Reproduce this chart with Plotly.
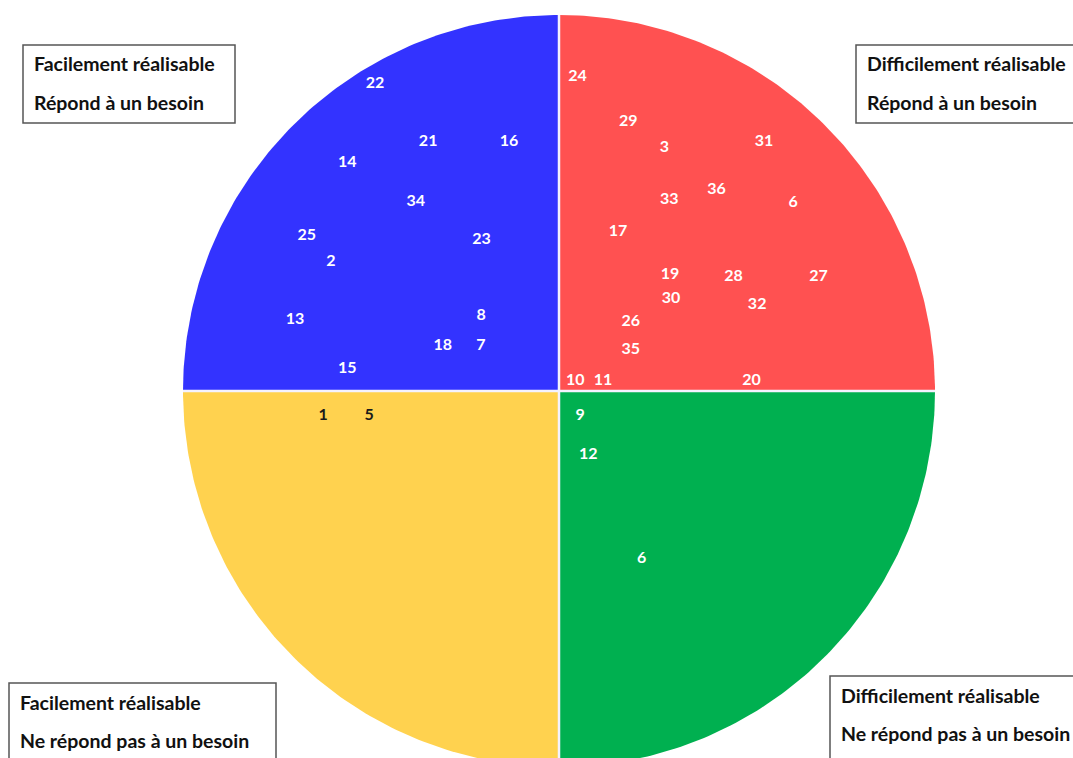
import numpy as np
import plotly.graph_objects as go

# ---- data ----
labels = ["22", "21", "16", "14", "34", "25", "23", "2", "13", "8", "18", "7", "15",
          "24", "29", "3", "31", "36", "33", "6", "17", "19", "28", "27", "30", "32",
          "26", "35", "10", "11", "20",
          "9", "12", "6",
          "1", "5"]
# x: difficulty of realisation (negative = easy), y: need (positive = meets a need)
difficulte = [-48.9, -34.8, -13.3, -56.3, -38.1, -67.1, -20.6, -60.7, -70.2, -20.7, -30.9, -20.8, -56.3,
              4.9, 18.4, 28.0, 54.5, 41.9, 29.3, 62.3, 15.7, 29.5, 46.4, 69.0, 29.8, 52.7,
              19.1, 19.1, 4.3, 11.7, 51.2,
              5.6, 7.8, 22.0,
              -62.7, -50.5]
besoin = [82.2, 66.8, 66.8, 61.4, 50.8, 41.9, 40.8, 35.1, 19.6, 20.7, 12.7, 12.7, 6.5,
          84.3, 72.1, 65.4, 66.8, 54.2, 51.4, 50.6, 43.0, 31.5, 31.1, 31.1, 25.1, 23.5,
          19.1, 11.5, 3.4, 3.4, 3.4,
          -5.9, -16.4, -43.9,
          -5.9, -5.9]

box_line1 = ["Facilement réalisable", "Difficilement réalisable",
             "Facilement réalisable", "Difficilement réalisable"]
box_line2 = ["Répond à un besoin", "Répond à un besoin",
             "Ne répond pas à un besoin", "Ne répond pas à un besoin"]

# ---- layout constants ----
W, H = 1073, 758
CX, CY = 559, 391          # pixel position of centre
PX_PER_UNIT = 3.76
R = 100                    # circle radius in data units
TEXT_DROP_PX = 2.5         # baseline compensation for number labels

xr = [-CX / PX_PER_UNIT, (W - CX) / PX_PER_UNIT]
yr = [(CY - H) / PX_PER_UNIT, CY / PX_PER_UNIT]
yr_text = [v + TEXT_DROP_PX / PX_PER_UNIT for v in yr]

BLUE, RED, GREEN, YELLOW = "#3333FF", "#FF5151", "#00B050", "#FFD24F"

fig = go.Figure()

def wedge(a0, a1, color):
    t = np.radians(np.linspace(a0, a1, 120))
    xs = np.concatenate([[0], R * np.cos(t), [0]])
    ys = np.concatenate([[0], R * np.sin(t), [0]])
    fig.add_trace(go.Scatter(x=xs, y=ys, fill="toself", fillcolor=color, mode="lines",
                             line=dict(width=0, color=color), hoverinfo="skip", showlegend=False))

wedge(90, 180, BLUE)
wedge(0, 90, RED)
wedge(270, 360, GREEN)
wedge(180, 270, YELLOW)

# white separators
fig.add_shape(type="line", x0=0, x1=0, y0=-R * 1.05, y1=R, line=dict(color="#F4F2FF", width=2.5))
fig.add_shape(type="line", x0=-R, x1=R, y0=0, y1=0, line=dict(color="#F4F2FF", width=2.5))

text_colors = ["#1a1a1a" if (x < 0 and y < 0) else "white" for x, y in zip(difficulte, besoin)]
fig.add_trace(go.Scatter(x=difficulte, y=besoin, text=labels, mode="text", yaxis="y2",
                         textposition="middle center",
                         textfont=dict(family="Lato", size=16, color=text_colors, weight="bold"),
                         hoverinfo="skip", showlegend=False))

# ---- corner boxes (pixel positions -> paper) ----
def px(x):
    return x / W

def py(y):
    return 1 - y / H

boxes = [  # (x0, y0, x1, y1) in pixels
    (23, 45, 235, 123),
    (856, 45, 1090, 123),
    (9, 683, 276, 780),
    (830, 676, 1090, 780),
]
for (x0, y0, x1, y1), l1, l2 in zip(boxes, box_line1, box_line2):
    fig.add_shape(type="rect", xref="paper", yref="paper",
                  x0=px(x0), x1=px(x1), y0=py(y0), y1=py(y1),
                  line=dict(color="#555555", width=1.5), fillcolor="white", layer="above")
    for k, txt in enumerate([l1, l2]):
        fig.add_annotation(xref="paper", yref="paper", x=px(x0 + 9), y=py(y0 + 19 + 38 * k),
                           xanchor="left", yanchor="middle", text=txt, showarrow=False,
                           align="left",
                           font=dict(family="Lato", size=19.5, color="#111111", weight="bold"))

fig.update_layout(
    width=W, height=H, margin=dict(l=0, r=0, t=0, b=0),
    paper_bgcolor="white", plot_bgcolor="white",
    xaxis=dict(range=xr, visible=False, fixedrange=True),
    yaxis=dict(range=yr, visible=False, fixedrange=True),
    yaxis2=dict(range=yr_text, visible=False, fixedrange=True, overlaying="y"),
    showlegend=False,
)

fig.write_html("out.html", config={"displayModeBar": False},
               post_script="document.body.style.margin='0px';document.body.style.overflow='hidden';")
